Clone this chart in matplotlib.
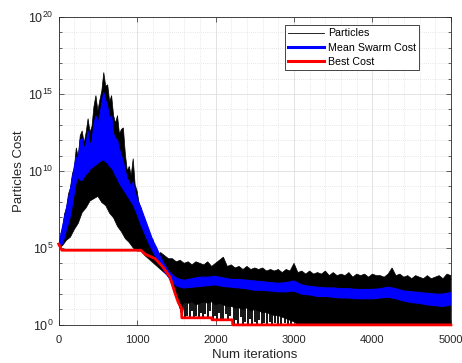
import numpy as np
import matplotlib
matplotlib.use('Agg')
import matplotlib.pyplot as plt
from matplotlib.lines import Line2D
from matplotlib.ticker import FixedLocator, MultipleLocator, NullFormatter

plt.rcParams['font.family'] = ['Liberation Sans', 'DejaVu Sans']

# all costs kept as log10 exponents
# particles: upper envelope of the black band
part_hi_iter = list(range(0, 1301, 25)) + list(range(1350, 5001, 50))
part_hi_exp = [5.0, 5.7, 6.3, 7.2, 7.6, 8.5, 8.9, 9.8, 10.2, 11.5,
               10.9, 12.3, 12.6, 11.8, 12.5, 13.4, 12.5, 12.9, 14.2, 14.9,
               13.9, 14.6, 15.2, 16.4, 15.5, 15.6, 14.5, 14.9, 13.6, 13.1,
               13.6, 12.4, 12.7, 12.8, 11.1, 10.0, 10.3, 9.7, 10.8, 9.1,
               8.7, 7.9, 7.6, 6.9, 6.7, 6.2, 5.9, 5.4, 5.6, 5.0,
               4.9, 4.6, 4.7,
               4.5, 4.3, 4.3, 4.1, 4.2, 4.0, 4.1, 3.9, 4.1, 4.0,
               3.9, 4.1, 3.8, 4.0, 4.2, 4.4, 3.8, 3.9, 3.7, 3.8,
               3.6, 3.8, 3.6, 3.7, 3.6, 3.7, 3.5, 3.6, 3.5, 3.6,
               3.4, 3.6, 3.5, 4.0, 3.4, 3.5, 3.3, 3.5, 3.3, 3.4,
               3.3, 3.5, 3.2, 3.4, 3.2, 3.3, 3.2, 3.4, 3.1, 3.3,
               3.2, 3.3, 3.1, 3.3, 3.2, 3.2, 3.1, 3.3, 3.7, 3.2,
               3.3, 3.1, 3.2, 3.0, 3.2, 3.1, 3.0, 3.2, 3.0, 3.1,
               3.2, 3.0, 3.3, 3.2]

# particles: lower edge of the dense black band
part_lo_iter = (list(range(0, 951, 50))
                + [1000, 1050, 1100, 1200, 1300, 1400, 1450, 1500, 1550, 1575]
                + list(range(1600, 3001, 50)) + [3050, 5000])
part_lo_exp = [5.0, 5.15, 5.5, 5.7, 6.2, 6.6, 7.3, 7.6, 8.05, 8.2,
               8.35, 7.95, 7.75, 7.25, 6.95, 6.4, 6.05, 5.6, 5.35, 5.0,
               4.8, 4.8, 4.5, 4.05, 3.6, 3.15, 2.5, 1.8, 1.0, 0.5,
               1.5, 1.4, 1.5, 1.3, 1.4, 1.5, 1.4, 1.5, 1.3, 1.4,
               1.3, 1.2, 1.2, 1.1, 1.1, 1.0, 1.1, 0.9, 1.0, 0.9,
               0.8, 0.8, 0.7, 0.6, 0.6, 0.5, 0.4, 0.3, 0.2,
               0.0, 0.0]

# single particles dipping below the dense band (iteration, lowest cost)
dip_iter = [1615, 1640, 1668, 1700, 1722, 1750, 1790, 1815, 1842, 1870,
            1900, 1930, 1965, 1990, 2015, 2040, 2070, 2100, 2130, 2160,
            2190, 2240, 2265, 2290, 2320, 2350, 2380, 2410, 2440, 2470,
            2500, 2530, 2560, 2590, 2620, 2650, 2690, 2720, 2760, 2800,
            2840, 2880, 2920, 2960]
dip_exp = [0.5, 0.6, 0.5, 0.9, 0.5, 0.6, 0.5, 0.8, 0.5, 0.7,
           0.5, 0.9, 0.35, 0.6, 0.35, 0.8, 0.4, 0.35, 0.7, 0.35,
           0.6, 0.0, 0.3, 0.0, 0.5, 0.0, 0.2, 0.0, 0.4, 0.0,
           0.2, 0.0, 0.3, 0.0, 0.1, 0.0, 0.2, 0.0, 0.1, 0.0,
           0.0, 0.1, 0.0, 0.0]

# mean swarm cost: spread of the blue trace
mean_iter = (list(range(0, 1001, 25)) + list(range(1050, 1601, 50))
             + list(range(1700, 5001, 100)))
mean_hi_exp = [5.1, 5.8, 6.4, 7.0, 7.6, 8.2, 8.8, 9.5, 10.3, 10.9,
               10.8, 12.0, 12.1, 11.4, 11.8, 12.6, 11.6, 12.0, 13.0, 13.6,
               13.0, 13.6, 14.4, 15.1, 14.6, 14.2, 13.4, 13.6, 12.4, 12.1,
               12.0, 11.4, 11.0, 10.6, 10.0, 9.5, 9.3, 8.9, 9.3, 8.6,
               8.2,
               7.6, 6.9, 6.2, 5.5, 5.0, 4.4, 3.9, 3.5, 3.25, 3.05,
               2.95, 2.9,
               3.0, 3.1, 3.1, 3.15, 3.05, 2.95, 2.95, 2.9, 2.85, 2.8,
               2.75, 2.7, 2.75, 2.85, 2.6, 2.5, 2.45, 2.4, 2.4, 2.35,
               2.35, 2.3, 2.3, 2.3, 2.35, 2.45, 2.35, 2.2, 2.15, 2.1,
               2.05, 2.0, 2.0, 2.1]
mean_lo_exp = [5.0, 5.1, 5.3, 5.7, 6.2, 6.6, 7.1, 7.8, 8.6, 9.3,
               9.6, 9.4, 9.4, 9.6, 9.8, 9.9, 10.1, 10.2, 10.3, 10.4,
               10.5, 10.6, 10.7, 10.7, 10.6, 10.5, 10.3, 10.2, 10.0, 9.7,
               9.5, 9.2, 9.0, 8.8, 8.6, 8.4, 8.2, 8.0, 7.8, 7.5,
               7.2,
               6.5, 5.9, 5.3, 4.8, 4.3, 3.9, 3.45, 3.1, 2.8, 2.55,
               2.45, 2.4,
               2.45, 2.5, 2.55, 2.6, 2.5, 2.45, 2.4, 2.35, 2.25, 2.25,
               2.2, 2.15, 2.15, 2.2, 2.0, 1.95, 1.85, 1.85, 1.8, 1.75,
               1.75, 1.7, 1.7, 1.7, 1.75, 1.8, 1.7, 1.55, 1.45, 1.4,
               1.3, 1.25, 1.2, 1.3]

# best cost
best_iter = [0, 40, 1050, 1100, 1230, 1330, 1420, 1480, 1525, 1565,
             1570, 1950, 1955, 2215, 2220, 5000]
best_exp = [5.25, 4.85, 4.85, 4.6, 4.3, 3.75, 3.1, 2.1, 1.45, 1.1,
            0.46, 0.46, 0.33, 0.33, 0.0, 0.0]

assert len(part_hi_iter) == len(part_hi_exp)
assert len(part_lo_iter) == len(part_lo_exp)
assert len(dip_iter) == len(dip_exp)
assert len(mean_iter) == len(mean_hi_exp) == len(mean_lo_exp)

fig = plt.figure(figsize=(4.62, 3.63), dpi=100)
ax = fig.add_axes([0.127, 0.105, 0.849, 0.848])

px = np.concatenate([part_hi_iter, part_lo_iter[::-1]])
py = 10.0 ** np.concatenate([part_hi_exp, part_lo_exp[::-1]])
ax.fill(px, py, facecolor='k', edgecolor='k', lw=0.5, zorder=2)
ax.vlines(dip_iter, 10.0 ** np.array(dip_exp), 100, color='k', lw=1.3,
          zorder=2)

mx = np.concatenate([mean_iter, mean_iter[::-1]])
my = 10.0 ** np.concatenate([mean_hi_exp, mean_lo_exp[::-1]])
ax.fill(mx, my, facecolor='#0000ff', edgecolor='#0000ff', lw=0.8, zorder=3)

ax.plot(best_iter, 10.0 ** np.array(best_exp), color='#ff0000', lw=2,
        zorder=4, clip_on=False)

ax.set_yscale('log')
ax.set_xlim(0, 5000)
ax.set_ylim(1, 1e20)

ax.xaxis.set_major_locator(MultipleLocator(1000))
ax.xaxis.set_minor_locator(MultipleLocator(200))
ax.yaxis.set_major_locator(FixedLocator([10.0 ** k for k in range(0, 21, 5)]))
ax.yaxis.set_minor_locator(FixedLocator([10.0 ** k for k in range(21) if k % 5]))
ax.yaxis.set_minor_formatter(NullFormatter())

ax.set_axisbelow(True)
ax.grid(True, which='major', color='#dedede', lw=0.6)
ax.grid(True, which='minor', color='#d2d2d2', lw=0.5, linestyle=(0, (1, 2)))

ax.tick_params(which='both', direction='in', top=True, right=True,
               colors='#262626')
ax.tick_params(which='major', length=3.5, width=0.5)
ax.tick_params(which='minor', length=2, width=0.5)
ax.tick_params(axis='x', which='minor', length=0)
ax.tick_params(axis='x', labelsize=8, pad=7)
ax.tick_params(axis='y', labelsize=9, pad=4)
for s in ax.spines.values():
    s.set_color('#262626')
    s.set_linewidth(0.6)

ax.set_xlabel('Num iterations', fontsize=9.5, color='#262626', labelpad=3)
ax.set_ylabel('Particles Cost', fontsize=9.5, color='#262626', labelpad=2)

handles = [Line2D([], [], color='k', lw=0.6),
           Line2D([], [], color='#0000ff', lw=2.2),
           Line2D([], [], color='#ff0000', lw=2.2)]
leg = ax.legend(handles, ['Particles', 'Mean Swarm Cost', 'Best Cost'],
                loc='upper right', bbox_to_anchor=(0.919, 0.974),
                fontsize=7.7, frameon=True, fancybox=False, framealpha=1,
                edgecolor='#262626', handlelength=3.3, borderpad=0.3,
                labelspacing=0.4, handletextpad=0.4, borderaxespad=0)
leg.get_frame().set_linewidth(0.6)

plt.savefig('out.png', dpi=100)
